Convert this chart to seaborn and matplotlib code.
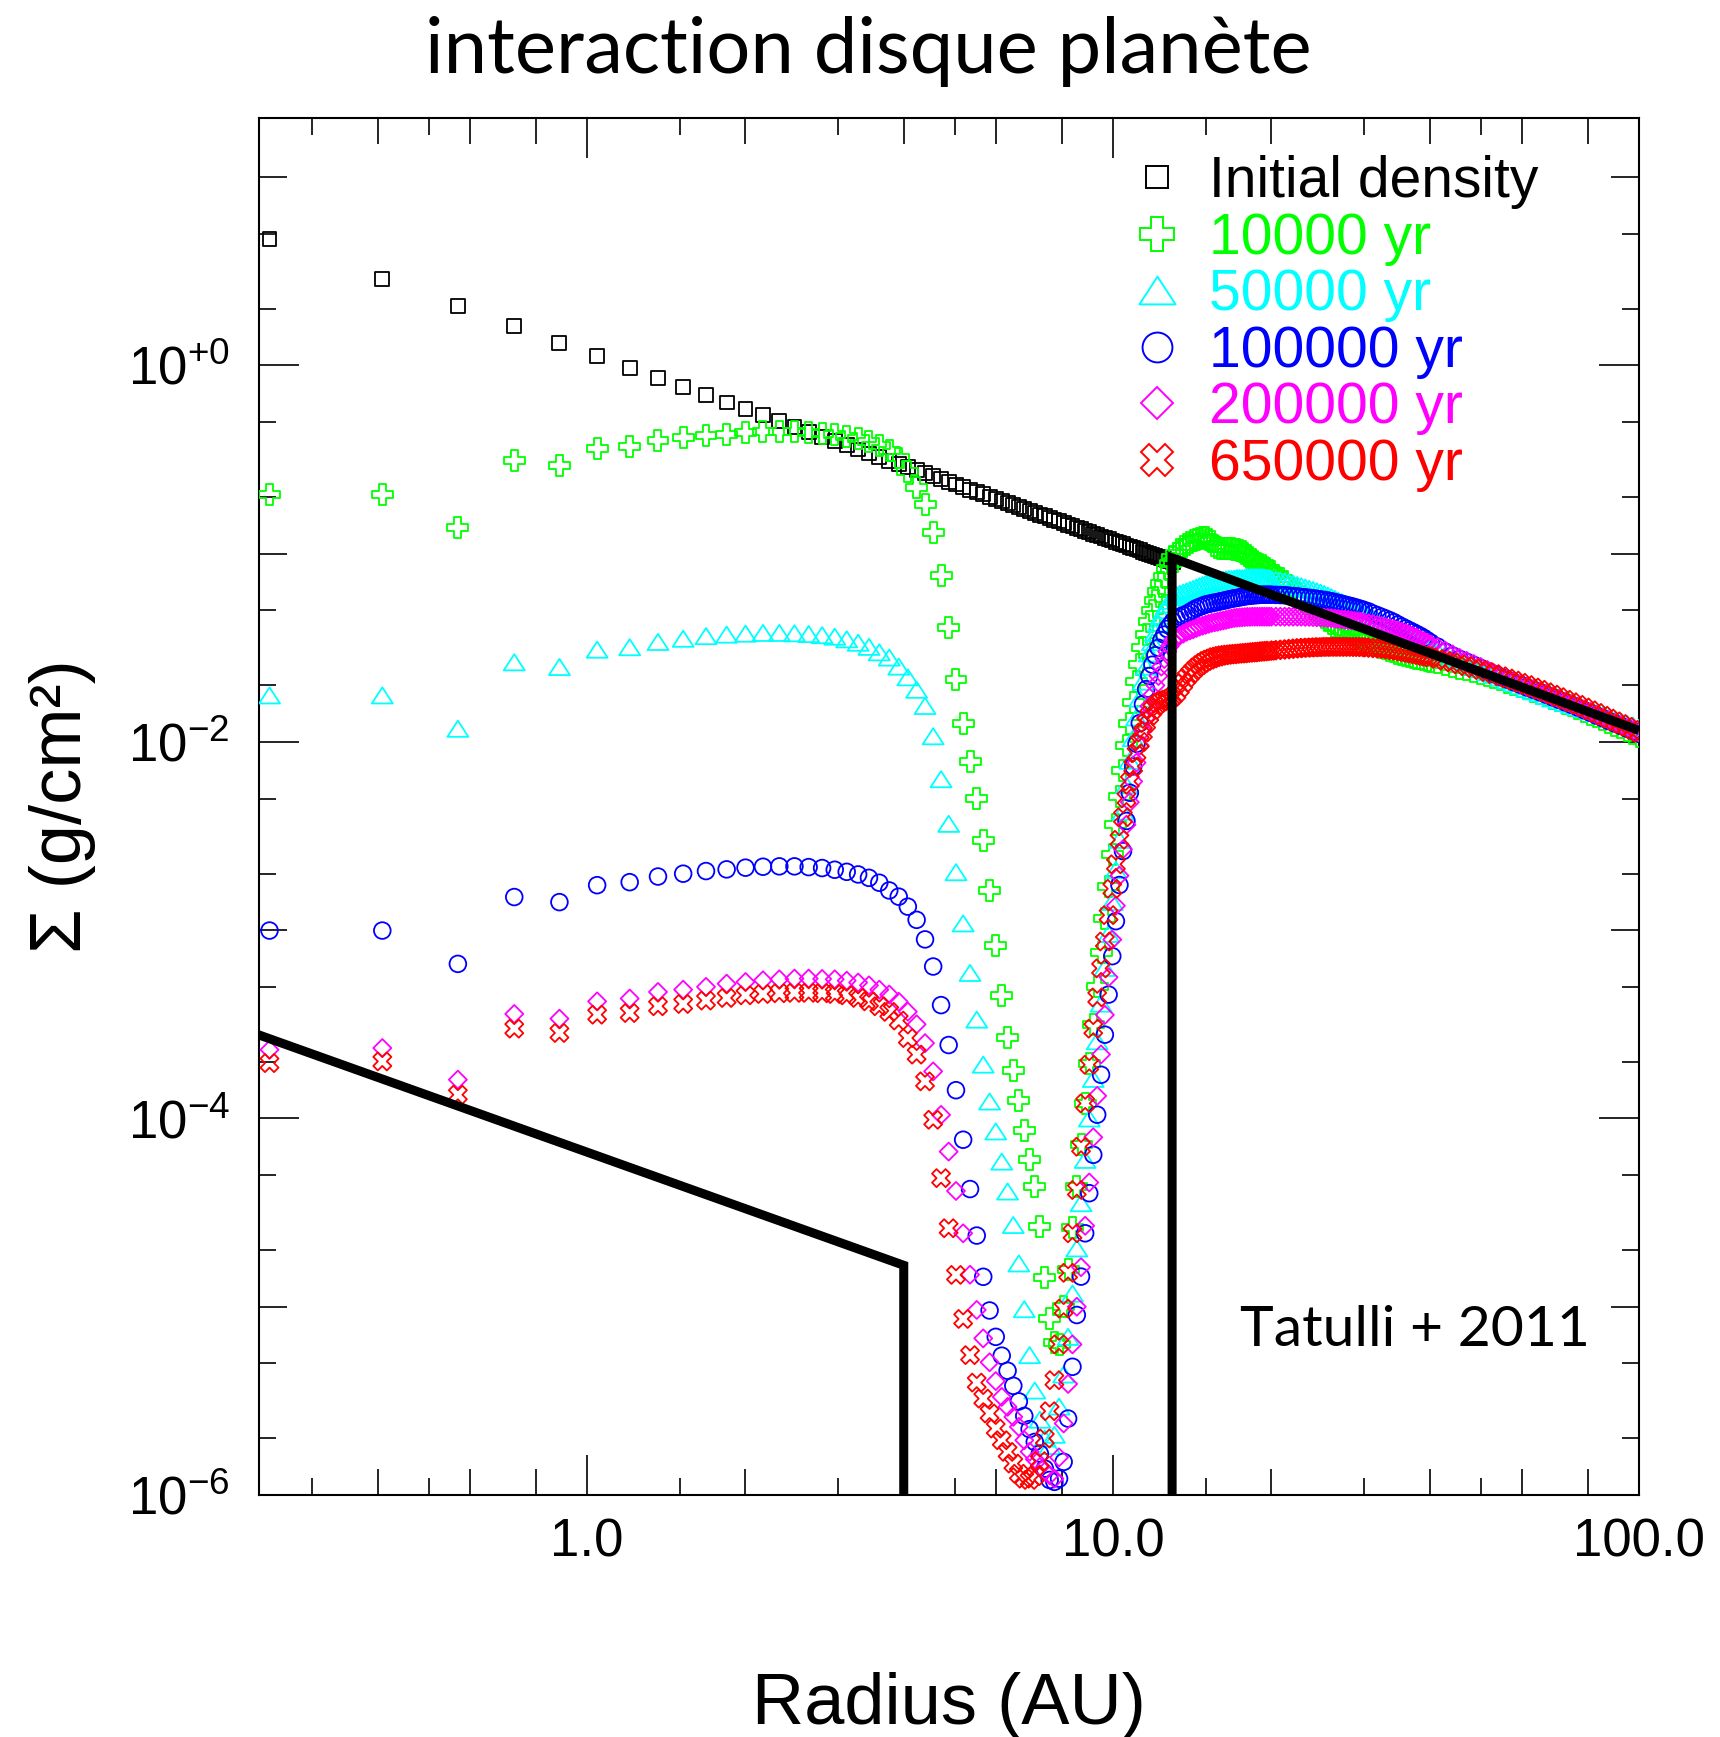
import numpy as np
import pandas as pd
import matplotlib
matplotlib.use("Agg")
import matplotlib.pyplot as plt
import seaborn as sns
from matplotlib.lines import Line2D
from matplotlib.path import Path
from matplotlib.ticker import FixedLocator, FixedFormatter, NullFormatter, NullLocator

# ---------------------------------------------------------------------------
# Radial grid of the disc simulation (AU)
# ---------------------------------------------------------------------------
inner_radius_au = [
    0.249, 0.408, 0.568, 0.727, 0.886, 1.045, 1.205, 1.364, 1.523, 1.683,
    1.842, 2.001, 2.160, 2.320, 2.479, 2.638, 2.798, 2.957, 3.116, 3.276,
    3.435, 3.594, 3.754, 3.913, 4.072, 4.232, 4.391, 4.550, 4.710, 4.869,
    5.028, 5.188, 5.347, 5.506, 5.665, 5.825, 5.984, 6.143, 6.302, 6.462,
    6.621, 6.780, 6.940, 7.099, 7.258, 7.418, 7.577, 7.736, 7.895, 8.055,
    8.214, 8.373, 8.533, 8.692, 8.851, 9.011, 9.170, 9.329, 9.488, 9.648,
    9.807, 9.966, 10.126, 10.285, 10.444, 10.604, 10.763, 10.922, 11.082, 11.241,
    11.400, 11.560, 11.719, 11.878, 12.037, 12.197, 12.356, 12.515, 12.675, 12.834,
    12.993]

outer_radius_au = [
    # 13.2 - 20.0
    13.2, 13.4, 13.6, 13.8, 14.0, 14.2, 14.4, 14.6, 14.8, 15.0,
    15.2, 15.4, 15.6, 15.8, 16.0, 16.2, 16.4, 16.6, 16.8, 17.0,
    17.2, 17.4, 17.6, 17.8, 18.0, 18.2, 18.4, 18.6, 18.8, 19.0,
    19.2, 19.4, 19.6, 19.8, 20.0,
    # 20.4 - 30.0
    20.4, 20.8, 21.2, 21.6, 22.0, 22.4, 22.8, 23.2, 23.6, 24.0,
    24.4, 24.8, 25.2, 25.6, 26.0, 26.4, 26.8, 27.2, 27.6, 28.0,
    28.4, 28.8, 29.2, 29.6, 30.0,
    # 30.6 - 40.2
    30.6, 31.2, 31.8, 32.4, 33.0, 33.6, 34.2, 34.8, 35.4, 36.0,
    36.6, 37.2, 37.8, 38.4, 39.0, 39.6, 40.2,
    # 41.4 - 100
    41.4, 42.8, 44.2, 45.6, 47.0, 48.5, 50.0, 51.5, 53.0, 54.6,
    56.2, 57.8, 59.5, 61.2, 63.0, 64.8, 66.6, 68.5, 70.4, 72.4,
    74.4, 76.5, 78.6, 80.8, 83.0, 85.3, 87.6, 90.0, 92.4, 94.9,
    97.4, 100.0]

# ---------------------------------------------------------------------------
# Surface density profiles, log10(Sigma / g cm^-2)
# ---------------------------------------------------------------------------
log_sigma_initial = [
    0.672, 0.458, 0.314, 0.207, 0.121, 0.049, -0.013, -0.067, -0.115, -0.158,
    -0.197, -0.233, -0.266, -0.297, -0.326, -0.353, -0.379, -0.403, -0.425, -0.447,
    -0.468, -0.487, -0.506, -0.524, -0.542, -0.558, -0.574, -0.590, -0.605, -0.619,
    -0.633, -0.647, -0.660, -0.673, -0.685, -0.697, -0.709, -0.720, -0.731, -0.742,
    -0.753, -0.763, -0.773, -0.783, -0.793, -0.802, -0.811, -0.820, -0.829, -0.838,
    -0.846, -0.855, -0.863, -0.871, -0.879, -0.887, -0.894, -0.902, -0.909, -0.916,
    -0.923, -0.930, -0.937, -0.944, -0.951, -0.957, -0.964, -0.970, -0.976, -0.983,
    -0.989, -0.995, -1.001, -1.007, -1.012, -1.018, -1.024, -1.029, -1.035, -1.040,
    -1.046]

log_sigma_10kyr_inner = [
    -0.684, -0.684, -0.862, -0.507, -0.534, -0.443, -0.429, -0.401, -0.384, -0.370,
    -0.365, -0.357, -0.353, -0.352, -0.353, -0.357, -0.362, -0.369, -0.378, -0.390,
    -0.405, -0.425, -0.450, -0.492, -0.562, -0.648, -0.737, -0.889, -1.117, -1.394,
    -1.668, -1.904, -2.105, -2.303, -2.524, -2.791, -3.080, -3.348, -3.568, -3.746,
    -3.906, -4.062, -4.218, -4.363, -4.575, -4.846, -5.064, -5.190, -5.200, -5.000,
    -4.800, -4.580, -4.360, -4.140, -3.920, -3.710, -3.500, -3.300, -3.120, -2.940,
    -2.770, -2.600, -2.440, -2.290, -2.150, -2.020, -1.900, -1.790, -1.680, -1.590,
    -1.500, -1.430, -1.360, -1.300, -1.250, -1.200, -1.160, -1.120, -1.080, -1.050,
    -1.020]
log_sigma_10kyr_outer = [
    -1.000, -0.980, -0.963, -0.950, -0.940, -0.932, -0.925, -0.918, -0.915, -0.915,
    -0.925, -0.938, -0.955, -0.965, -0.972, -0.975, -0.975, -0.975, -0.975, -0.977,
    -0.980, -0.985, -0.990, -1.000, -1.010, -1.020, -1.030, -1.040, -1.050, -1.058,
    -1.065, -1.073, -1.080, -1.088, -1.095,
    -1.115, -1.132, -1.150, -1.170, -1.190, -1.210, -1.230, -1.250, -1.270, -1.290,
    -1.310, -1.324, -1.338, -1.356, -1.371, -1.385, -1.394, -1.402, -1.411, -1.419,
    -1.428, -1.436, -1.443, -1.451, -1.458,
    -1.467, -1.478, -1.487, -1.496, -1.505, -1.513, -1.520, -1.528, -1.534, -1.540,
    -1.545, -1.550, -1.555, -1.559, -1.563, -1.567, -1.571,
    -1.579, -1.589, -1.598, -1.608, -1.618, -1.628, -1.638, -1.649, -1.660, -1.671,
    -1.683, -1.694, -1.706, -1.718, -1.731, -1.743, -1.756, -1.769, -1.782, -1.796,
    -1.809, -1.823, -1.837, -1.852, -1.866, -1.881, -1.896, -1.911, -1.925, -1.940,
    -1.956, -1.973]

log_sigma_50kyr_inner = [
    -1.753, -1.753, -1.930, -1.577, -1.602, -1.510, -1.497, -1.469, -1.452, -1.438,
    -1.430, -1.425, -1.421, -1.421, -1.423, -1.427, -1.433, -1.441, -1.455, -1.473,
    -1.495, -1.524, -1.552, -1.600, -1.657, -1.723, -1.809, -1.970, -2.198, -2.435,
    -2.692, -2.964, -3.227, -3.475, -3.714, -3.910, -4.069, -4.229, -4.388, -4.566,
    -4.770, -5.013, -5.257, -5.445, -5.600, -5.700, -5.740, -5.680, -5.530, -5.360,
    -5.160, -4.930, -4.690, -4.450, -4.220, -4.000, -3.790, -3.590, -3.390, -3.200,
    -3.020, -2.850, -2.680, -2.520, -2.370, -2.230, -2.100, -1.980, -1.870, -1.770,
    -1.680, -1.600, -1.530, -1.470, -1.420, -1.370, -1.330, -1.300, -1.270, -1.250,
    -1.230]
log_sigma_50kyr_outer = [
    -1.220, -1.213, -1.207, -1.200, -1.193, -1.187, -1.180, -1.173, -1.167, -1.160,
    -1.157, -1.153, -1.150, -1.147, -1.143, -1.140, -1.137, -1.135, -1.135, -1.133,
    -1.130, -1.130, -1.130, -1.128, -1.125, -1.125, -1.125, -1.125, -1.125, -1.125,
    -1.125, -1.127, -1.130, -1.132, -1.135,
    -1.139, -1.143, -1.147, -1.152, -1.160, -1.167, -1.173, -1.180, -1.187, -1.193,
    -1.200, -1.207, -1.214, -1.223, -1.231, -1.240, -1.249, -1.257, -1.266, -1.274,
    -1.283, -1.291, -1.299, -1.307, -1.318,
    -1.330, -1.344, -1.356, -1.368, -1.380, -1.392, -1.403, -1.412, -1.422, -1.432,
    -1.442, -1.452, -1.462, -1.472, -1.482, -1.492, -1.502,
    -1.517, -1.535, -1.554, -1.569, -1.584, -1.600, -1.615, -1.630, -1.644, -1.659,
    -1.674, -1.688, -1.703, -1.717, -1.731, -1.741, -1.756, -1.769, -1.780, -1.792,
    -1.804, -1.815, -1.826, -1.837, -1.848, -1.860, -1.871, -1.883, -1.893, -1.903,
    -1.913, -1.925]

log_sigma_100kyr_inner = [
    -3.002, -3.002, -3.179, -2.824, -2.851, -2.761, -2.745, -2.715, -2.700, -2.686,
    -2.677, -2.668, -2.663, -2.661, -2.661, -2.665, -2.670, -2.679, -2.690, -2.704,
    -2.722, -2.748, -2.789, -2.822, -2.875, -2.945, -3.049, -3.193, -3.398, -3.610,
    -3.850, -4.113, -4.375, -4.622, -4.841, -5.020, -5.160, -5.260, -5.340, -5.420,
    -5.503, -5.580, -5.650, -5.718, -5.780, -5.860, -5.920, -5.930, -5.913, -5.824,
    -5.594, -5.319, -5.044, -4.840, -4.610, -4.397, -4.193, -3.980, -3.768, -3.555,
    -3.342, -3.138, -2.952, -2.760, -2.580, -2.420, -2.270, -2.130, -2.010, -1.900,
    -1.800, -1.720, -1.650, -1.590, -1.540, -1.500, -1.460, -1.430, -1.400, -1.380,
    -1.360]
log_sigma_100kyr_outer = [
    -1.345, -1.335, -1.327, -1.320, -1.310, -1.300, -1.290, -1.283, -1.277, -1.270,
    -1.267, -1.263, -1.260, -1.257, -1.253, -1.250, -1.247, -1.243, -1.240, -1.237,
    -1.235, -1.232, -1.230, -1.227, -1.225, -1.224, -1.222, -1.221, -1.220, -1.219,
    -1.218, -1.218, -1.218, -1.218, -1.218,
    -1.219, -1.220, -1.221, -1.223, -1.225, -1.227, -1.230, -1.232, -1.235, -1.237,
    -1.240, -1.243, -1.246, -1.249, -1.253, -1.257, -1.262, -1.266, -1.271, -1.275,
    -1.279, -1.284, -1.289, -1.294, -1.299,
    -1.307, -1.318, -1.327, -1.336, -1.345, -1.354, -1.364, -1.376, -1.387, -1.397,
    -1.407, -1.417, -1.427, -1.437, -1.448, -1.461, -1.473,
    -1.494, -1.520, -1.541, -1.559, -1.574, -1.591, -1.607, -1.623, -1.639, -1.655,
    -1.669, -1.683, -1.696, -1.710, -1.723, -1.736, -1.749, -1.763, -1.776, -1.790,
    -1.803, -1.817, -1.831, -1.845, -1.860, -1.874, -1.889, -1.902, -1.915, -1.929,
    -1.942, -1.955]

log_sigma_200kyr_inner = [
    -3.635, -3.626, -3.794, -3.445, -3.470, -3.378, -3.363, -3.328, -3.316, -3.301,
    -3.284, -3.275, -3.266, -3.261, -3.257, -3.257, -3.259, -3.261, -3.268, -3.278,
    -3.293, -3.316, -3.342, -3.380, -3.433, -3.500, -3.600, -3.750, -3.981, -4.176,
    -4.385, -4.610, -4.830, -5.017, -5.168, -5.295, -5.395, -5.479, -5.532, -5.585,
    -5.638, -5.709, -5.770, -5.810, -5.851, -5.875, -5.895, -5.913, -5.800, -5.620,
    -5.410, -5.200, -5.000, -4.790, -4.570, -4.340, -4.100, -3.880, -3.660, -3.450,
    -3.250, -3.050, -2.870, -2.710, -2.570, -2.440, -2.320, -2.210, -2.110, -2.020,
    -1.940, -1.870, -1.810, -1.750, -1.700, -1.650, -1.600, -1.560, -1.520, -1.490,
    -1.460]
log_sigma_200kyr_outer = [
    -1.445, -1.435, -1.425, -1.415, -1.408, -1.402, -1.395, -1.388, -1.383, -1.378,
    -1.373, -1.368, -1.365, -1.362, -1.358, -1.355, -1.352, -1.348, -1.345, -1.342,
    -1.340, -1.339, -1.338, -1.337, -1.336, -1.336, -1.335, -1.335, -1.335, -1.335,
    -1.335, -1.335, -1.335, -1.335, -1.335,
    -1.335, -1.335, -1.335, -1.335, -1.335, -1.335, -1.335, -1.336, -1.336, -1.337,
    -1.338, -1.339, -1.340, -1.342, -1.343, -1.345, -1.347, -1.349, -1.351, -1.353,
    -1.355, -1.357, -1.360, -1.362, -1.365,
    -1.370, -1.374, -1.379, -1.384, -1.390, -1.396, -1.402, -1.408, -1.415, -1.422,
    -1.430, -1.438, -1.447, -1.457, -1.465, -1.473, -1.482,
    -1.497, -1.515, -1.535, -1.554, -1.569, -1.586, -1.602, -1.618, -1.635, -1.651,
    -1.665, -1.678, -1.692, -1.706, -1.719, -1.732, -1.745, -1.759, -1.772, -1.786,
    -1.799, -1.813, -1.827, -1.841, -1.856, -1.871, -1.885, -1.899, -1.912, -1.926,
    -1.938, -1.950]

log_sigma_650kyr_inner = [
    -3.706, -3.697, -3.874, -3.523, -3.546, -3.449, -3.440, -3.404, -3.392, -3.374,
    -3.360, -3.346, -3.339, -3.335, -3.333, -3.333, -3.335, -3.339, -3.346, -3.360,
    -3.378, -3.404, -3.434, -3.480, -3.573, -3.661, -3.803, -4.007, -4.317, -4.583,
    -4.831, -5.065, -5.257, -5.403, -5.488, -5.567, -5.647, -5.709, -5.771, -5.833,
    -5.887, -5.913, -5.920, -5.900, -5.820, -5.700, -5.555, -5.390, -5.200, -5.010,
    -4.820, -4.610, -4.380, -4.150, -3.920, -3.715, -3.523, -3.357, -3.203, -3.060,
    -2.920, -2.780, -2.650, -2.520, -2.400, -2.300, -2.210, -2.130, -2.060, -2.000,
    -1.950, -1.900, -1.860, -1.830, -1.810, -1.795, -1.785, -1.780, -1.775, -1.770,
    -1.760]
log_sigma_650kyr_outer = [
    -1.740, -1.713, -1.687, -1.660, -1.640, -1.622, -1.605, -1.592, -1.580, -1.570,
    -1.563, -1.557, -1.550, -1.547, -1.543, -1.540, -1.538, -1.536, -1.535, -1.533,
    -1.532, -1.531, -1.530, -1.528, -1.527, -1.526, -1.525, -1.523, -1.522, -1.521,
    -1.520, -1.518, -1.517, -1.516, -1.515,
    -1.513, -1.511, -1.509, -1.507, -1.505, -1.503, -1.501, -1.500, -1.499, -1.498,
    -1.497, -1.496, -1.496, -1.495, -1.495, -1.495, -1.495, -1.495, -1.495, -1.495,
    -1.495, -1.495, -1.496, -1.496, -1.497,
    -1.499, -1.501, -1.503, -1.505, -1.507, -1.510, -1.513, -1.516, -1.519, -1.523,
    -1.527, -1.531, -1.535, -1.539, -1.543, -1.547, -1.551,
    -1.559, -1.569, -1.578, -1.588, -1.598, -1.608, -1.618, -1.629, -1.640, -1.651,
    -1.663, -1.674, -1.686, -1.698, -1.711, -1.723, -1.736, -1.749, -1.762, -1.776,
    -1.789, -1.803, -1.817, -1.832, -1.846, -1.861, -1.876, -1.891, -1.905, -1.920,
    -1.936, -1.953]

# Tatulli et al. (2011) model: inner disc, gap, outer disc (AU, g/cm^2)
model_inner_radius_au = [0.2, 4.0, 4.0]
model_inner_sigma = [3.3e-4, 1.66e-5, 1e-7]
model_outer_radius_au = [12.95, 12.95, 100.0]
model_outer_sigma = [1e-7, 0.095, 0.0115]

series_labels = ["Initial density", "10000 yr", "50000 yr",
                 "100000 yr", "200000 yr", "650000 yr"]
series_colors = ["#000000", "#00ff00", "#00ffff", "#0000ff", "#ff00ff", "#ff0000"]

# ---------------------------------------------------------------------------
# Long-form table of all profiles
# ---------------------------------------------------------------------------
profile_logs = {
    "10000 yr": log_sigma_10kyr_inner + log_sigma_10kyr_outer,
    "50000 yr": log_sigma_50kyr_inner + log_sigma_50kyr_outer,
    "100000 yr": log_sigma_100kyr_inner + log_sigma_100kyr_outer,
    "200000 yr": log_sigma_200kyr_inner + log_sigma_200kyr_outer,
    "650000 yr": log_sigma_650kyr_inner + log_sigma_650kyr_outer,
}
all_radius_au = inner_radius_au + outer_radius_au
frames = [pd.DataFrame({"radius": inner_radius_au,
                        "sigma": np.power(10.0, log_sigma_initial),
                        "epoch": "Initial density"})]
for label, logs in profile_logs.items():
    assert len(logs) == len(all_radius_au), label
    frames.append(pd.DataFrame({"radius": all_radius_au,
                                "sigma": np.power(10.0, logs),
                                "epoch": label}))
profiles = pd.concat(frames, ignore_index=True)

# ---------------------------------------------------------------------------
# Style
# ---------------------------------------------------------------------------
sns.set_style("ticks")
plt.rcParams["font.family"] = ["Liberation Sans", "DejaVu Sans"]
plt.rcParams["mathtext.fontset"] = "custom"
plt.rcParams["mathtext.rm"] = "Liberation Sans"
plt.rcParams["mathtext.it"] = "Liberation Sans:italic"
plt.rcParams["mathtext.bf"] = "Liberation Sans:bold"
plt.rcParams["mathtext.sf"] = "Liberation Sans"
for key in ("text.color", "axes.labelcolor", "xtick.color", "ytick.color",
            "axes.edgecolor"):
    plt.rcParams[key] = "black"

triangle = Path([(-1.0, -0.77), (1.0, -0.77), (0.0, 0.77), (0.0, 0.0)],
                [Path.MOVETO, Path.LINETO, Path.LINETO, Path.CLOSEPOLY])
plot_markers = ["s", "P", triangle, "o", "D", "X"]
plot_sizes = [100, 228, 228, 144, 84, 169]
legend_sizes = [16.5, 25, 26, 21.5, 16.8, 23.5]

fig = plt.figure(figsize=(17.2, 17.37), dpi=100)
ax = fig.add_axes([0.15058, 0.13932, 0.80233, 0.79275])

for z, (label, color, marker, size) in enumerate(
        zip(series_labels, series_colors, plot_markers, plot_sizes)):
    sub = profiles[profiles["epoch"] == label]
    sns.scatterplot(data=sub, x="radius", y="sigma", marker=marker, s=size,
                    color=color, facecolor="none", edgecolor=color,
                    linewidth=1.3, legend=False, ax=ax, zorder=2 + z)

for rr, ss in ((model_inner_radius_au, model_inner_sigma),
               (model_outer_radius_au, model_outer_sigma)):
    sns.lineplot(x=rr, y=ss, sort=False, estimator=None, color="black",
                 linewidth=6.5, legend=False, ax=ax, zorder=20,
                 solid_joinstyle="miter", solid_capstyle="butt")

ax.set_xscale("log")
ax.set_yscale("log")
ax.set_xlim(0.2378, 100.0)
ax.set_ylim(1e-6, 20.6)

# ---- ticks -----------------------------------------------------------------
x_major = [1.0, 10.0, 100.0]
x_short = [0.3, 0.5, 1.5, 3, 5, 15, 30, 50]
x_mid = [0.4, 0.6, 0.8, 2, 4, 6, 8, 20, 40, 60, 80]
y_major = [1e-6, 1e-4, 1e-2, 1.0]
y_short = [2e-6, 5e-6, 2e-5, 5e-5, 2e-4, 5e-4, 2e-3, 5e-3,
           0.02, 0.05, 0.2, 0.5, 2, 5]
y_mid = [1e-5, 1e-3, 0.1, 10]

ax.xaxis.set_major_locator(FixedLocator(x_major))
ax.xaxis.set_major_formatter(FixedFormatter(["1.0", "10.0", "100.0"]))
ax.xaxis.set_minor_locator(FixedLocator(x_short))
ax.xaxis.set_minor_formatter(NullFormatter())
ax.yaxis.set_major_locator(FixedLocator(y_major))
ax.yaxis.set_major_formatter(FixedFormatter(
    [r"$10^{-6}$", r"$10^{-4}$", r"$10^{-2}$", r"$10^{+0}$"]))
ax.yaxis.set_minor_locator(FixedLocator(y_short))
ax.yaxis.set_minor_formatter(NullFormatter())

ax.tick_params(which="both", direction="in", top=True, right=True,
               color="black", width=1.2)
ax.tick_params(which="major", length=29)
ax.tick_params(which="minor", length=12.5)
ax.tick_params(axis="x", which="major", labelsize=38, pad=16)
ax.tick_params(axis="y", which="major", labelsize=38, pad=21)

for side in ("bottom", "top"):
    sec = ax.secondary_xaxis(side)
    sec.set_xticks(x_mid)
    sec.xaxis.set_minor_locator(NullLocator())
    sec.xaxis.set_major_formatter(NullFormatter())
    sec.tick_params(axis="x", which="major", direction="in", length=19,
                    width=1.2, color="black")
    for sp in sec.spines.values():
        sp.set_visible(False)
for side in ("left", "right"):
    sec = ax.secondary_yaxis(side)
    sec.set_yticks(y_mid)
    sec.yaxis.set_minor_locator(NullLocator())
    sec.yaxis.set_major_formatter(NullFormatter())
    sec.tick_params(axis="y", which="major", direction="in", length=20,
                    width=1.2, color="black")
    for sp in sec.spines.values():
        sp.set_visible(False)

for sp in ax.spines.values():
    sp.set_linewidth(1.5)
    sp.set_color("black")

# ---- labels ----------------------------------------------------------------
ax.set_xlabel("Radius (AU)", fontsize=52)
ax.xaxis.set_label_coords(0.5, -0.1663)
ax.xaxis.label.set_va("baseline")
ax.set_ylabel("Σ (g/cm²)", fontsize=52)
ax.yaxis.set_label_coords(-0.118, 0.5)

fig.text(0.5047, 0.958, "interaction disque planète", ha="center",
         va="baseline", fontsize=56, family="Lato")
ax.text(0.711, 0.108, "Tatulli + 2011", transform=ax.transAxes,
        ha="left", va="baseline", fontsize=41, family="Lato")

# ---- legend ----------------------------------------------------------------
handles = [Line2D([], [], linestyle="none", marker=m, markersize=ms,
                  markerfacecolor="none", markeredgecolor=c,
                  markeredgewidth=1.4)
           for m, ms, c in zip(plot_markers, legend_sizes, series_colors)]
ax.legend(handles, series_labels, loc="upper left",
          bbox_to_anchor=(0.630, 0.973), frameon=False, fontsize=41,
          handlelength=1.0, handletextpad=0.41, labelspacing=0.044,
          borderpad=0, borderaxespad=0, labelcolor=series_colors)

fig.savefig("out.png", dpi=100)
